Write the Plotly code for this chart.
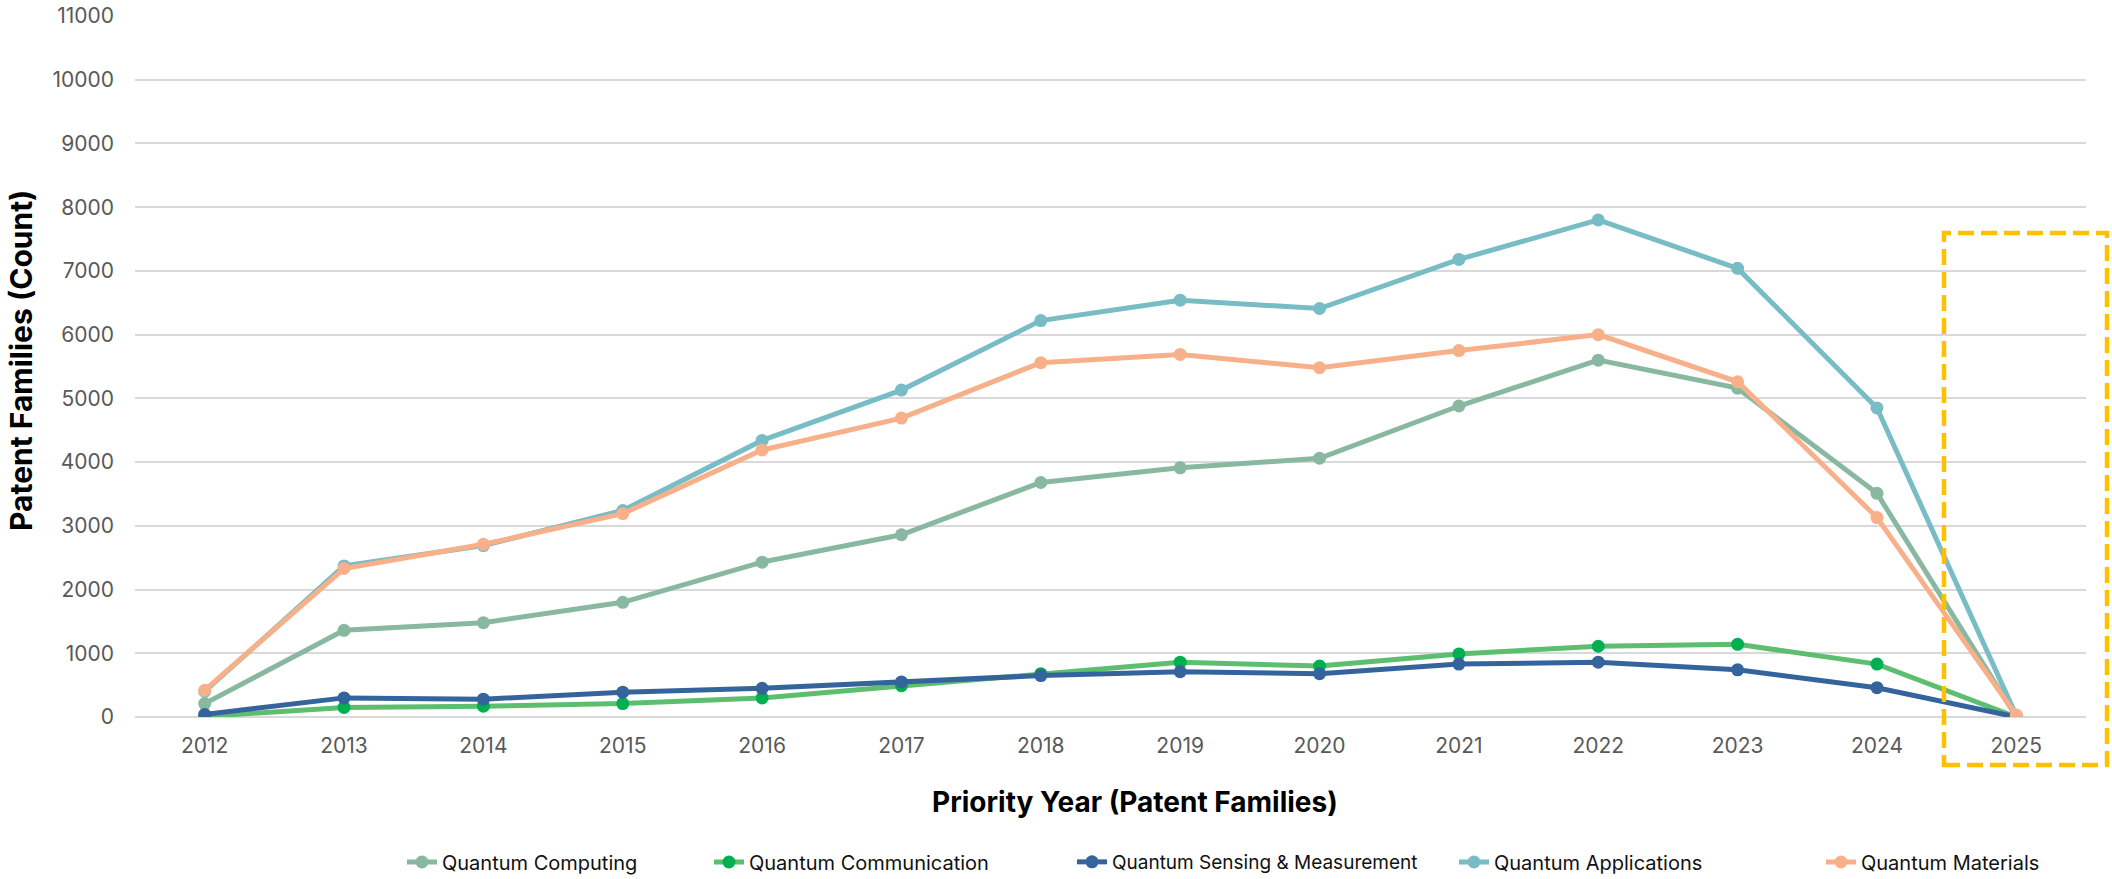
import plotly.graph_objects as go

# Priority years on the category axis
years = [str(y) for y in range(2012, 2026)]

# Patent family counts per technology field
quantum_computing = [210, 1360, 1480, 1800, 2430, 2860, 3680, 3910, 4060, 4880, 5600, 5160, 3510, 0]
quantum_communication = [10, 150, 170, 210, 300, 490, 680, 860, 800, 990, 1110, 1140, 830, 0]
quantum_sensing = [40, 300, 280, 390, 450, 550, 650, 710, 680, 830, 860, 740, 460, 0]
quantum_applications = [400, 2370, 2690, 3240, 4340, 5130, 6220, 6540, 6410, 7180, 7800, 7040, 4850, 20]
quantum_materials = [420, 2330, 2710, 3190, 4190, 4690, 5560, 5690, 5480, 5750, 6000, 5260, 3130, 30]

series = [
    ("Quantum Computing", quantum_computing, "#88B9A0", "#88B9A0"),
    ("Quantum Communication", quantum_communication, "#5DBE70", "#00B050"),
    ("Quantum Sensing & Measurement", quantum_sensing, "#35649C", "#35649C"),
    ("Quantum Applications", quantum_applications, "#78BCC5", "#78BCC5"),
    ("Quantum Materials", quantum_materials, "#F8B08A", "#F8B08A"),
]

FONT = "Inter, Liberation Sans, Arial, sans-serif"

# Page geometry (pixels)
W, H = 2112, 879
ML, MR, MT, MB = 135, 26, 16, 162
PW, PH = W - ML - MR, H - MT - MB


def px_x(px):
    return (px - ML) / PW


def px_y(py):
    return (H - MB - py) / PH


fig = go.Figure()

# Legend entries: left pixel of each entry and its text size
legend_left_px = [402, 709, 1072, 1454, 1821]
legend_font_px = [20, 20, 19, 20, 20]
legend_names = ["legend", "legend2", "legend3", "legend4", "legend5"]

for (name, vals, line_c, mark_c), lg in zip(series, legend_names):
    fig.add_trace(go.Scatter(
        x=years, y=vals, name=name, mode="lines+markers",
        line=dict(color=line_c, width=5),
        marker=dict(color=mark_c, size=13),
        legend=lg,
    ))

legend_y = px_y(862)
legend_layout = {}
for lg, lx, fs in zip(legend_names, legend_left_px, legend_font_px):
    legend_layout[lg] = dict(
        x=px_x(lx), xanchor="left", y=legend_y, yanchor="middle",
        orientation="h", bgcolor="rgba(0,0,0,0)",
        font=dict(family=FONT, size=fs, color="#111111"),
        itemwidth=30,
    )

fig.update_layout(
    width=W, height=H,
    margin=dict(l=ML, r=MR, t=MT, b=MB, autoexpand=False),
    paper_bgcolor="white", plot_bgcolor="white",
    xaxis=dict(
        type="category", range=[-0.5, len(years) - 0.5],
        showgrid=False, showline=False, zeroline=False,
        tickfont=dict(family=FONT, size=21, color="#595959"),
        ticklabelstandoff=14, automargin=False,
    ),
    yaxis=dict(
        range=[0, 11000], dtick=1000, tickformat="d",
        showgrid=True, gridcolor="#D9D9D9", gridwidth=1.5,
        zeroline=True, zerolinecolor="#D9D9D9", zerolinewidth=1.5,
        showline=False,
        tickfont=dict(family=FONT, size=21, color="#595959"),
        ticklabelstandoff=20, automargin=False,
    ),
    showlegend=True,
    **legend_layout,
)

# Axis titles
fig.add_annotation(
    text="<b>Priority Year (Patent Families)</b>", xref="paper", yref="paper",
    x=px_x(1135), y=px_y(802), xanchor="center", yanchor="middle",
    showarrow=False, font=dict(family=FONT, size=28, color="#000000"),
)
fig.add_annotation(
    text="<b>Patent Families (Count)</b>", xref="paper", yref="paper",
    x=px_x(21), y=px_y(361), xanchor="center", yanchor="middle", textangle=-90,
    showarrow=False, font=dict(family=FONT, size=30, color="#000000"),
)

# Dashed highlight around the incomplete 2025 year
fig.add_shape(
    type="rect", xref="paper", yref="paper",
    x0=px_x(1944), x1=px_x(2107), y0=px_y(765), y1=px_y(233),
    line=dict(color="#FFC000", width=4.5, dash="16px,7px"),
    fillcolor="rgba(0,0,0,0)", layer="above",
)

fig.write_html("out.html")
